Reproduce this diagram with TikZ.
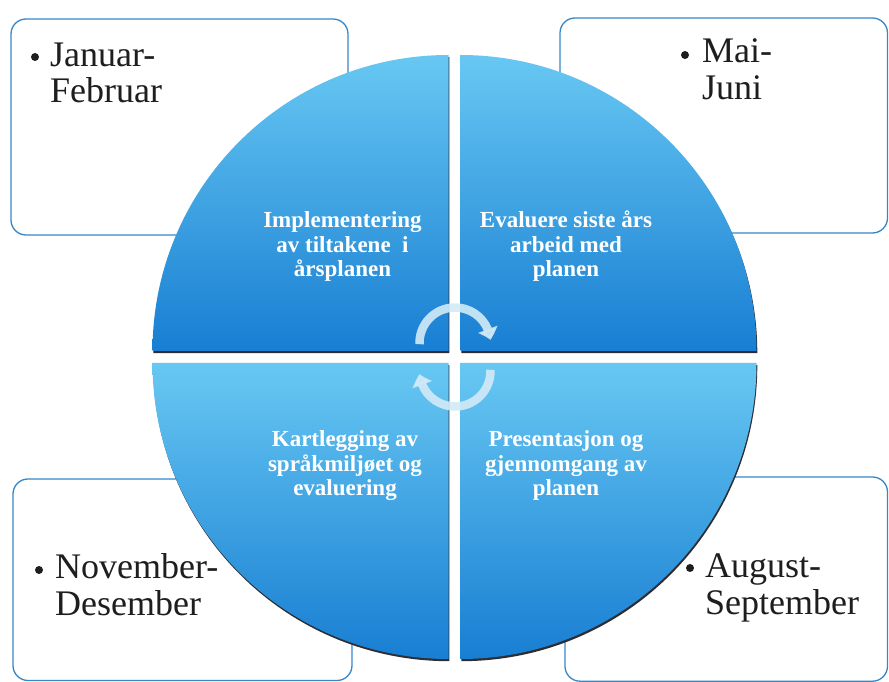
\documentclass[tikz,border=0pt]{standalone}
\usepackage{fontspec}
\setmainfont{Liberation Serif}
\usetikzlibrary{arrows.meta,bending}
\definecolor{qtop}{RGB}{104,200,243}
\definecolor{qmid}{RGB}{52,160,228}
\definecolor{qbot}{RGB}{24,126,210}
\definecolor{boxline}{RGB}{55,135,200}
\definecolor{arrowc}{RGB}{210,234,247}
\definecolor{shadowc}{RGB}{45,45,50}
\definecolor{monthtext}{RGB}{30,30,30}
\tikzset{
  monthbox/.style={draw=boxline, line width=1.3pt, fill=white, rounded corners=15pt},
  quadrant/.style={top color=qtop, middle color=qmid, bottom color=qbot, draw=none},
  quadshadow/.style={fill=shadowc, draw=none},
  monthline/.style={anchor=base west, inner sep=0pt, text=monthtext, font=\fontsize{36}{37}\selectfont},
  bulletdot/.style={circle, fill=monthtext, inner sep=0pt, minimum size=8pt},
  quadline/.style={anchor=base, inner sep=0pt, text=white, font=\bfseries\fontsize{23}{24.5}\selectfont},
  cyclearrow/.style={draw=arrowc, opacity=0.9, line width=8.5pt, -{Triangle[width=20pt,length=11pt,bend]}}
}
\begin{document}
\begin{tikzpicture}[x=1pt,y=1pt]
\useasboundingbox (0,0) rectangle (889,682);
% month boxes (behind the circle)
\draw[monthbox] (11,663) rectangle (348,447);
\draw[monthbox] (560,664) rectangle (887.5,449);
\draw[monthbox] (13,203) rectangle (352,1.5);
\draw[monthbox] (565,205) rectangle (887.5,0.8);
% quadrant shadows
\begin{scope}[shift={(0.8,-2.2)}]
\fill[quadshadow] (448.5,331) -- (152.5,331) arc[start angle=180,end angle=90,radius=296pt] -- cycle;
\fill[quadshadow] (460.5,331) -- (460.5,627) arc[start angle=90,end angle=0,radius=296pt] -- cycle;
\fill[quadshadow] (448.5,319) -- (448.5,23) arc[start angle=270,end angle=180,radius=296pt] -- cycle;
\fill[quadshadow] (460.5,319) -- (756.5,319) arc[start angle=0,end angle=-90,radius=296pt] -- cycle;
\end{scope}
% quadrants
\shade[quadrant] (448.5,331) -- (152.5,331) arc[start angle=180,end angle=90,radius=296pt] -- cycle;
\shade[quadrant] (460.5,331) -- (460.5,627) arc[start angle=90,end angle=0,radius=296pt] -- cycle;
\shade[quadrant] (448.5,319) -- (448.5,23) arc[start angle=270,end angle=180,radius=296pt] -- cycle;
\shade[quadrant] (460.5,319) -- (756.5,319) arc[start angle=0,end angle=-90,radius=296pt] -- cycle;
% quadrant texts
\node[quadline] (tl1) at (342.5,454) {Implementering};
\node[quadline] (tl2) at (342.5,429) {av tiltakene\enspace i};
\node[quadline] (tl3) at (342.5,405) {årsplanen};
\node[quadline] (tr1) at (566,454) {Evaluere siste års};
\node[quadline] (tr2) at (566,429) {arbeid med};
\node[quadline] (tr3) at (566,405) {planen};
\node[quadline] (bl1) at (345,235) {Kartlegging av};
\node[quadline] (bl2) at (345,210) {språkmiljøet og};
\node[quadline] (bl3) at (345,186) {evaluering};
\node[quadline] (br1) at (566,235) {Presentasjon og};
\node[quadline] (br2) at (566,210) {gjennomgang av};
\node[quadline] (br3) at (566,186) {planen};
% cycle arrows
\coordinate (tc) at (455,339);
\coordinate (bc) at (455,311);
\draw[cyclearrow] ([shift={(182:35.5pt)}]tc) arc[start angle=182,end angle=5,radius=35.5pt];
\draw[cyclearrow] ([shift={(2:35.5pt)}]bc) arc[start angle=2,end angle=-175,radius=35.5pt];
% month labels
\node[bulletdot] (bjan) at (35,625) {};
\node[monthline] (jan1) at (50,615) {Januar-};
\node[monthline] (jan2) at (50,579) {Februar};
\node[bulletdot] (bmai) at (685,627) {};
\node[monthline] (mai1) at (702,619) {Mai-};
\node[monthline] (mai2) at (702,582) {Juni};
\node[bulletdot] (bnov) at (39,112) {};
\node[monthline] (nov1) at (55,103) {November-};
\node[monthline] (nov2) at (55,66) {Desember};
\node[bulletdot] (baug) at (690,114) {};
\node[monthline] (aug1) at (705,104) {August-};
\node[monthline] (aug2) at (705,67) {September};
\end{tikzpicture}
\end{document}
